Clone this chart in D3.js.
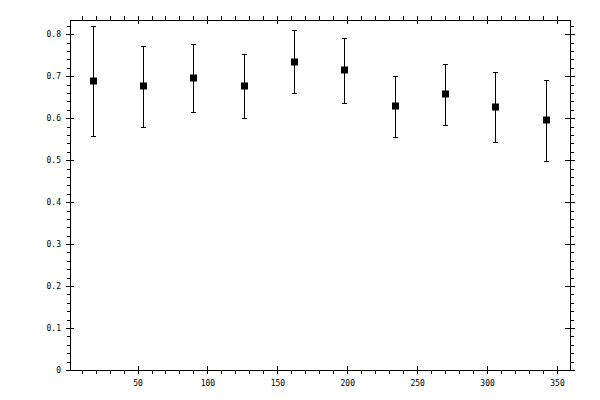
<!DOCTYPE html>
<html>
<head>
<meta charset="utf-8">
<script src="https://cdn.jsdelivr.net/npm/d3@7"></script>
<style>
  body { margin: 0; background: #fff; }
  svg text { font-family: "DejaVu Sans Mono", monospace; font-size: 8px; fill: #000; }
</style>
</head>
<body>
<svg id="chart"></svg>
<script>
// data
var xValues = [18, 54, 90, 126, 162, 198, 234, 270, 306, 342]
var yValues = [0.688, 0.676, 0.695, 0.676, 0.735, 0.714, 0.628, 0.657, 0.626, 0.595]
var yErrors = [0.131, 0.097, 0.081, 0.076, 0.076, 0.078, 0.072, 0.073, 0.083, 0.096]
var xTicks = [50, 100, 150, 200, 250, 300, 350]
var yTicks = [0, 0.1, 0.2, 0.3, 0.4, 0.5, 0.6, 0.7, 0.8]

var svg = d3.select("#chart").attr("width", 600).attr("height", 400)

var plotLeft = 70, plotRight = 570, plotTop = 20, plotBottom = 370

var x = d3.scaleLinear().domain([1.7, 359.3]).range([plotLeft, plotRight])
var y = d3.scaleLinear().domain([0, 0.834]).range([plotBottom, plotTop])

// minor ticks every 10 on x, every 0.02 on y
var xMinor = d3.range(10, 360, 10).filter(d => d % 50 != 0)
var yMinor = d3.range(1, 42).map(d => d * 0.02).filter(d => Math.round(d * 50) % 5 != 0)

function plain(g) {
    g.select(".domain").remove()
    g.selectAll("line").attr("stroke", "#000").attr("shape-rendering", "crispEdges")
}

// bottom axis
svg.append("g").attr("transform", `translate(0,${plotBottom})`)
   .call(d3.axisBottom(x).tickValues(xTicks).tickSize(4).tickPadding(6).tickFormat(d3.format("d")))
   .call(plain)
svg.append("g").attr("transform", `translate(0,${plotBottom})`)
   .call(d3.axisTop(x).tickValues(xTicks).tickSize(4).tickFormat(""))
   .call(plain)
svg.append("g").attr("transform", `translate(0,${plotBottom})`)
   .call(d3.axisBottom(x).tickValues(xMinor).tickSize(4).tickFormat(""))
   .call(plain)

// top axis
svg.append("g").attr("transform", `translate(0,${plotTop})`)
   .call(d3.axisTop(x).tickValues(xTicks).tickSize(4).tickFormat(""))
   .call(plain)
svg.append("g").attr("transform", `translate(0,${plotTop})`)
   .call(d3.axisBottom(x).tickValues(xTicks).tickSize(4).tickFormat(""))
   .call(plain)
svg.append("g").attr("transform", `translate(0,${plotTop})`)
   .call(d3.axisTop(x).tickValues(xMinor).tickSize(4).tickFormat(""))
   .call(plain)

// left axis
svg.append("g").attr("transform", `translate(${plotLeft},0)`)
   .call(d3.axisLeft(y).tickValues(yTicks).tickSize(4).tickPadding(5).tickFormat(d => d == 0 ? "0" : d3.format(".1f")(d)))
   .call(plain)
svg.append("g").attr("transform", `translate(${plotLeft},0)`)
   .call(d3.axisRight(y).tickValues(yTicks).tickSize(4).tickFormat(""))
   .call(plain)
svg.append("g").attr("transform", `translate(${plotLeft},0)`)
   .call(d3.axisLeft(y).tickValues(yMinor).tickSize(3).tickFormat(""))
   .call(plain)

// right axis
svg.append("g").attr("transform", `translate(${plotRight},0)`)
   .call(d3.axisRight(y).tickValues(yTicks).tickSize(5).tickFormat(""))
   .call(plain)
svg.append("g").attr("transform", `translate(${plotRight},0)`)
   .call(d3.axisLeft(y).tickValues(yTicks).tickSize(5).tickFormat(""))
   .call(plain)
svg.append("g").attr("transform", `translate(${plotRight},0)`)
   .call(d3.axisRight(y).tickValues(yMinor).tickSize(4).tickFormat(""))
   .call(plain)

// frame
svg.append("rect")
   .attr("x", plotLeft + 0.5).attr("y", plotTop + 0.5)
   .attr("width", plotRight - plotLeft).attr("height", plotBottom - plotTop)
   .attr("fill", "none").attr("stroke", "#000")

var pts = xValues.map((d, i) => ({x: d, y: yValues[i], e: yErrors[i]}))

// error bars
var bars = svg.append("g").attr("stroke", "#000").attr("shape-rendering", "crispEdges")
bars.selectAll(".err").data(pts).join("line")
    .attr("x1", d => Math.round(x(d.x)) + 0.5).attr("x2", d => Math.round(x(d.x)) + 0.5)
    .attr("y1", d => y(d.y + d.e)).attr("y2", d => y(d.y - d.e))
bars.selectAll(".capTop").data(pts).join("line")
    .attr("x1", d => Math.round(x(d.x)) - 2).attr("x2", d => Math.round(x(d.x)) + 3)
    .attr("y1", d => Math.round(y(d.y + d.e)) + 0.5).attr("y2", d => Math.round(y(d.y + d.e)) + 0.5)
bars.selectAll(".capBot").data(pts).join("line")
    .attr("x1", d => Math.round(x(d.x)) - 2).attr("x2", d => Math.round(x(d.x)) + 3)
    .attr("y1", d => Math.round(y(d.y - d.e)) + 0.5).attr("y2", d => Math.round(y(d.y - d.e)) + 0.5)

// square markers
svg.append("g").selectAll("rect").data(pts).join("rect")
   .attr("x", d => Math.round(x(d.x)) - 3)
   .attr("y", d => Math.round(y(d.y)) - 3.5)
   .attr("width", 7).attr("height", 7)
   .attr("fill", "#000")
</script>
</body>
</html>
